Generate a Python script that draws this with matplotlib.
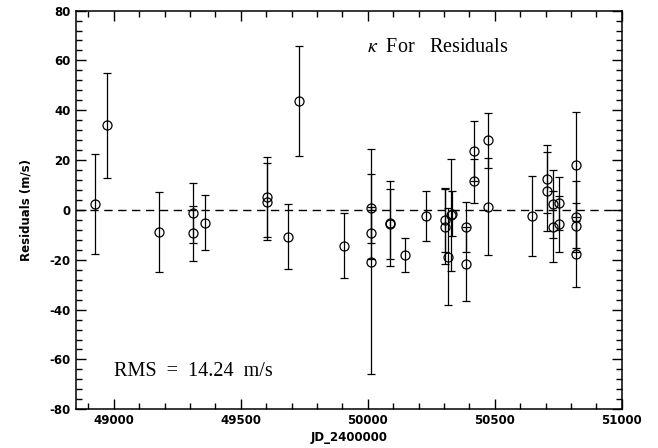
import numpy as np
import matplotlib
matplotlib.use('Agg')
import matplotlib.pyplot as plt
from matplotlib.ticker import MultipleLocator

plt.rcParams['axes.unicode_minus'] = False
plt.rcParams['mathtext.fontset'] = 'stix'

# Julian date - 2400000, residual (m/s), error (m/s)
jd = [48928, 48975, 49180, 49311, 49311, 49358, 49603, 49603, 49684, 49731,
      49908, 50014, 50014, 50014, 50086, 50086, 50146, 50231,
      50303, 50305, 50314, 50327, 50332, 50387, 50387, 50419, 50419,
      50475, 50475, 50648, 50705, 50705, 50731, 50731, 50753, 50753,
      50819, 50819, 50819, 50819]
resid = [2.5, 34.0, -9.0, -1.1, -9.4, -5.1, 5.3, 3.3, -10.7, 43.6,
         -14.3, 0.7, -9.3, -20.7, -5.4, -5.6, -18.1, -2.4,
         -4.0, -6.7, -18.7, -2.0, -1.6, -7.0, -21.7, 23.7, 11.6,
         27.9, 1.3, -2.4, 12.4, 7.4, 2.4, -6.7, 2.7, -5.6,
         18.1, -2.7, -6.4, -17.7]
err = [20.0, 21.0, 16.0, 12.0, 11.0, 11.0, 16.0, 15.5, 13.0, 22.0,
       13.0, 13.8, 10.5, 45.0, 17.0, 14.0, 6.7, 10.0,
       13.0, 15.0, 19.6, 22.5, 9.0, 10.0, 14.8, 12.0, 9.0,
       11.0, 19.5, 16.0, 13.7, 15.8, 13.7, 14.3, 10.7, 11.1,
       21.0, 14.3, 9.0, 13.1]
rms = 14.24

fig = plt.figure(figsize=(6.58, 4.48), dpi=100)
ax = fig.add_axes([0.115, 0.0864, 0.83, 0.89])

ax.errorbar(jd, resid, yerr=err, fmt='o', mfc='none', mec='black', color='black',
            ms=6.5, mew=0.9, elinewidth=0.9, capsize=3, capthick=0.9)
ax.axhline(0, color='black', ls=(0, (6, 4)), lw=1)

ax.set_xlim(48850, 51000)
ax.set_ylim(-80, 80)
ax.xaxis.set_major_locator(MultipleLocator(500))
ax.xaxis.set_minor_locator(MultipleLocator(100))
ax.yaxis.set_major_locator(MultipleLocator(20))
ax.yaxis.set_minor_locator(MultipleLocator(4))
ax.tick_params(which='both', direction='in', top=True, right=True, width=1)
ax.tick_params(which='major', length=7, labelsize=8.5)
ax.tick_params(which='minor', length=4)
for lab in ax.get_xticklabels() + ax.get_yticklabels():
    lab.set_fontweight('bold')
for sp in ax.spines.values():
    sp.set_linewidth(1.1)

ax.set_xlabel('JD_2400000', fontsize=8.5, fontweight='bold', labelpad=3)
ax.set_ylabel('Residuals (m/s)', fontsize=8.5, fontweight='bold', labelpad=12)

ax.text(49995, 65, r'$\kappa$  For   Residuals', fontsize=14.5, family='Liberation Serif',
        va='center', ha='left')
ax.text(49000, -65, 'RMS  =  %.2f  m/s' % rms, fontsize=14.5, family='Liberation Serif',
        va='center', ha='left')

fig.savefig('out.png', dpi=100)
